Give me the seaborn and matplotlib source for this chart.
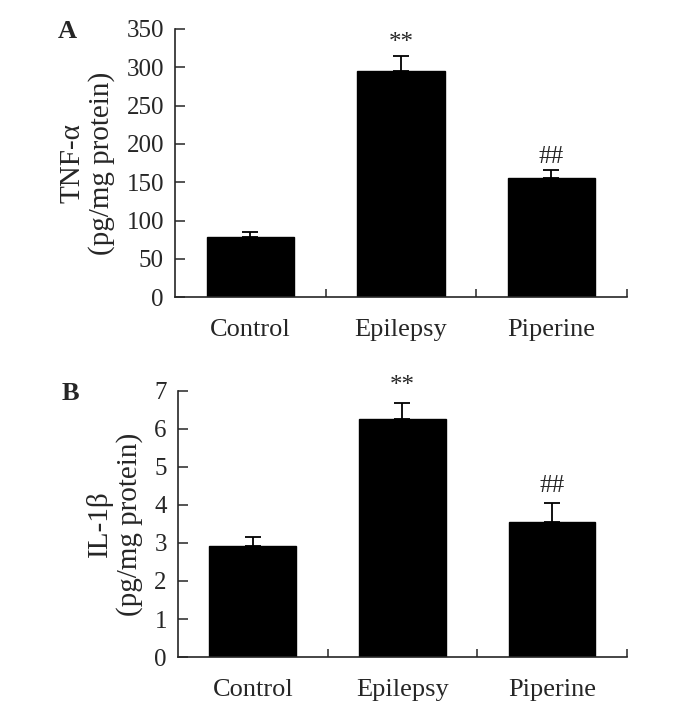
import numpy as np
import pandas as pd
import matplotlib
matplotlib.use("Agg")
import matplotlib.pyplot as plt
import seaborn as sns

# data
groups = ["Control", "Epilepsy", "Piperine"]
tnf_mean = [78, 295, 155]
tnf_err = [7, 20, 11]
il1b_mean = [2.92, 6.26, 3.55]
il1b_err = [0.24, 0.42, 0.50]
marks = ["", "**", "##"]

sns.set_style("ticks")
plt.rcParams["font.family"] = ["Liberation Serif", "DejaVu Serif"]


def draw_panel(ax, means, errs, ymax, ystep, ylabel, letter, mark_off):
    df = pd.DataFrame({"group": groups, "value": means})
    sns.barplot(data=df, x="group", y="value", color="black", width=0.58,
                edgecolor="black", saturation=1, ax=ax)
    x = np.arange(len(groups))
    ax.errorbar(x, means, yerr=[np.zeros(len(errs)), errs], fmt="none",
                ecolor="black", elinewidth=1.3, capsize=6, capthick=1.3)
    for xi, m, e, t in zip(x, means, errs, marks):
        if t:
            ax.text(xi, m + e + mark_off, t, ha="center", va="bottom", fontsize=18)
    ax.set_xlim(-0.5, 2.5)
    ax.set_ylim(0, ymax)
    ax.set_yticks(np.arange(0, ymax + ystep / 2, ystep))
    ax.set_xticks([0.5, 1.5, 2.5], minor=True)
    ax.tick_params(axis="x", which="major", length=0, labelsize=19, pad=16)
    ax.tick_params(axis="x", which="minor", direction="in", length=6, width=1.1)
    ax.tick_params(axis="y", direction="in", length=7, width=1.1, labelsize=18, pad=8)
    sns.despine(ax=ax)
    for s in ["left", "bottom"]:
        ax.spines[s].set_linewidth(1.2)
    ax.set_xlabel("")
    ax.set_ylabel(ylabel, fontsize=21, labelpad=8, linespacing=1.15)
    ax.text(-0.26, 0.99, letter, transform=ax.transAxes, fontsize=19,
            fontweight="bold", ha="left", va="center")


fig = plt.figure(figsize=(6.88, 7.06), dpi=100)
ax_a = fig.add_axes([0.2544, 0.579, 0.6566, 0.380])
ax_b = fig.add_axes([0.2587, 0.0694, 0.6523, 0.3768])

draw_panel(ax_a, tnf_mean, tnf_err, 350, 50, "TNF-α\n(pg/mg protein)", "A", 2)
draw_panel(ax_b, il1b_mean, il1b_err, 7, 1, "IL-1β\n(pg/mg protein)", "B", 0.15)

fig.savefig("out.png", dpi=100)
